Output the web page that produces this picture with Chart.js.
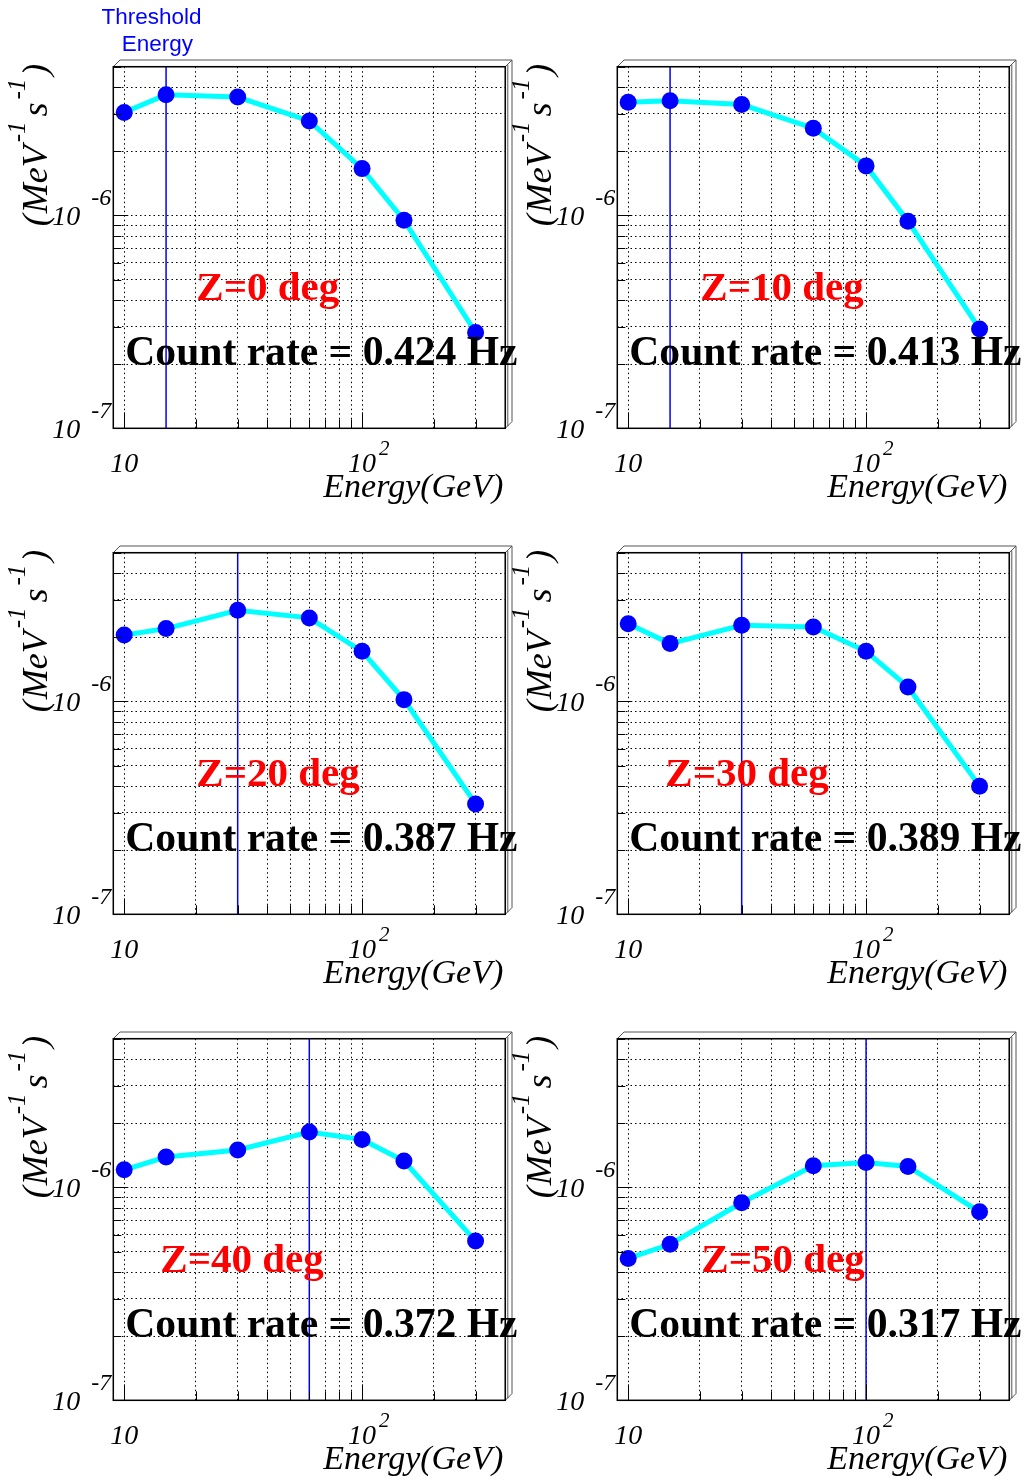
<!DOCTYPE html>
<html>
<head>
<meta charset="utf-8">
<script src="https://cdn.jsdelivr.net/npm/chart.js@4.4.0/dist/chart.umd.min.js"></script>
<style>
  html, body { margin: 0; padding: 0; background: #fff; }
  #page { position: relative; width: 1024px; height: 1481px; overflow: hidden; }
  #page canvas { position: absolute; }
</style>
</head>
<body>
<div id="page"></div>
<script>
// data (differential rate, MeV^-1 s^-1)
const energies = [10, 15, 30, 60, 100, 150, 300];
const zenithAngles = [0, 10, 20, 30, 40, 50];
const countRates = ['0.424', '0.413', '0.387', '0.389', '0.372', '0.317'];
const thresholds = [15, 15, 30, 30, 60, 100];

const rateZ0  = [3.05e-6, 3.69e-6, 3.60e-6, 2.78e-6, 1.66e-6, 9.5e-7, 2.82e-7];
const rateZ10 = [3.40e-6, 3.46e-6, 3.32e-6, 2.57e-6, 1.71e-6, 9.4e-7, 2.93e-7];
const rateZ20 = [2.05e-6, 2.20e-6, 2.68e-6, 2.47e-6, 1.72e-6, 1.02e-6, 3.3e-7];
const rateZ30 = [2.32e-6, 1.87e-6, 2.28e-6, 2.24e-6, 1.72e-6, 1.17e-6, 4.0e-7];
const rateZ40 = [1.21e-6, 1.39e-6, 1.50e-6, 1.82e-6, 1.68e-6, 1.33e-6, 5.6e-7];
const rateZ50 = [4.64e-7, 5.41e-7, 8.47e-7, 1.265e-6, 1.31e-6, 1.256e-6, 7.68e-7];
const rates = [rateZ0, rateZ10, rateZ20, rateZ30, rateZ40, rateZ50];

// axes
const xRange = [9, 400];
const yRange = [1e-7, 5e-6];
const xGrid = [10, 20, 30, 40, 50, 60, 70, 80, 90, 100, 200, 300];
const yGrid = [1e-7, 2e-7, 3e-7, 4e-7, 5e-7, 6e-7, 7e-7, 8e-7, 9e-7, 1e-6, 2e-6, 3e-6, 4e-6, 5e-6];
const xLabelTicks = [10, 100];
const xLabelText = [['10', ''], ['10', '2']];
const yLabelTicks = [1e-7, 1e-6];
const yLabelText = [['10', '-7'], ['10', '-6']];

// layout (canvas coords of one panel)
const W = 520, H = 510;
const FR = { left: 113.3, top: 66.7, right: 505.3, bottom: 428.3 };
const zLabelDx = [83, 83, 83, 48, 47, 84];
const SERIF = '"Liberation Serif", "DejaVu Serif", serif';
const SANS = '"Liberation Sans", Arial, sans-serif';

const isMajor = v => Math.abs(Math.log10(v) - Math.round(Math.log10(v))) < 1e-9;

// y title pieces: text, superscript?, gap after
const yTitleParts = [['(', false, 1], ['MeV', false, 3], ['-1', true, 5], ['s', false, 3], ['-1', true, 3], [')', false, 0]];

function pieceFont(sup) {
  return 'italic ' + (sup ? 25 : 36) + 'px ' + SERIF;
}

const rootFrame = {
  id: 'rootFrame',
  afterDraw(chart, args, opts) {
    const ctx = chart.ctx;
    const { left: L, top: T, right: R, bottom: B } = chart.chartArea;
    const xs = chart.scales.x, ys = chart.scales.y;
    ctx.save();

    // tick marks
    ctx.strokeStyle = '#000';
    ctx.lineWidth = 1;
    ctx.beginPath();
    xGrid.forEach(v => {
      const px = Math.round(xs.getPixelForValue(v)) + 0.5;
      ctx.moveTo(px, B);
      ctx.lineTo(px, B - (isMajor(v) ? 16 : 9));
    });
    yGrid.forEach(v => {
      const py = Math.round(ys.getPixelForValue(v)) + 0.5;
      ctx.moveTo(L, py);
      ctx.lineTo(L + (isMajor(v) ? 15 : 8), py);
    });
    ctx.stroke();

    // 3D bevel
    const d = 6.7;
    ctx.fillStyle = '#fff';
    ctx.strokeStyle = '#555';
    ctx.lineWidth = 1;
    ctx.beginPath();
    ctx.moveTo(L, T);
    ctx.lineTo(L + d, T - d);
    ctx.lineTo(R + d, T - d);
    ctx.lineTo(R + d, B - d);
    ctx.lineTo(R, B);
    ctx.lineTo(R, T);
    ctx.closePath();
    ctx.fill();
    ctx.stroke();
    ctx.beginPath();
    ctx.moveTo(R, T);
    ctx.lineTo(R + d, T - d);
    ctx.moveTo(R + 2.5, T - 2);
    ctx.lineTo(R + 2.5, B - 2);
    ctx.stroke();

    // frame
    ctx.strokeStyle = '#000';
    ctx.lineWidth = 1.5;
    ctx.strokeRect(L, T, R - L, B - T);

    // labels inside the pad
    const i = opts.index;
    ctx.textBaseline = 'alphabetic';
    ctx.textAlign = 'left';
    ctx.font = 'bold 41px ' + SERIF;
    ctx.fillStyle = '#ff0000';
    ctx.fillText('Z=' + zenithAngles[i] + ' deg', L + zLabelDx[i], T + 233.3);
    ctx.fillStyle = '#000';
    ctx.font = 'bold 41.6px ' + SERIF;
    ctx.fillText('Count rate = ' + countRates[i] + ' Hz', L + 12, T + 298.3);

    // axis labels
    ctx.fillStyle = '#000';
    yLabelTicks.forEach((v, k) => {
      const py = ys.getPixelForValue(v);
      ctx.font = 'italic 28px ' + SERIF;
      ctx.textAlign = 'right';
      ctx.fillText(yLabelText[k][0], L - 33, py + 10);
      ctx.font = 'italic 24px ' + SERIF;
      ctx.textAlign = 'left';
      ctx.fillText(yLabelText[k][1], L - 22, py - 10);
    });
    xLabelTicks.forEach((v, k) => {
      const px = xs.getPixelForValue(v);
      ctx.font = 'italic 28px ' + SERIF;
      ctx.textAlign = 'center';
      ctx.fillText(xLabelText[k][0], px, B + 44);
      if (xLabelText[k][1]) {
        ctx.font = 'italic 21px ' + SERIF;
        ctx.textAlign = 'left';
        ctx.fillText(xLabelText[k][1], px + 17, B + 27);
      }
    });

    // x title
    ctx.font = 'italic 34px ' + SERIF;
    ctx.textAlign = 'right';
    ctx.fillText('Energy(GeV)', R - 2, B + 69);

    // y title, rotated, right-aligned at the top of the frame
    ctx.textAlign = 'left';
    let w = 0;
    yTitleParts.forEach(([t, sup, gap]) => {
      ctx.font = pieceFont(sup);
      w += ctx.measureText(t).width + gap;
    });
    ctx.save();
    ctx.translate(46.7, T - 3);
    ctx.rotate(-Math.PI / 2);
    let cx = -w;
    yTitleParts.forEach(([t, sup, gap]) => {
      ctx.font = pieceFont(sup);
      ctx.fillText(t, cx, sup ? -22 : 0);
      cx += ctx.measureText(t).width + gap;
    });
    ctx.restore();

    if (i === 0) {
      ctx.font = '22.5px ' + SANS;
      ctx.fillStyle = '#0000ff';
      ctx.textAlign = 'left';
      ctx.fillText('Threshold', 101.5, 24);
      ctx.fillText('Energy', 121.7, 50.5);
    }
    ctx.restore();
  }
};

const page = document.getElementById('page');
rates.forEach((series, i) => {
  const cv = document.createElement('canvas');
  cv.width = W;
  cv.height = H;
  cv.style.left = (i % 2) * 504 + 'px';
  cv.style.top = Math.floor(i / 2) * 486 + 'px';
  page.appendChild(cv);

  new Chart(cv, {
    type: 'line',
    data: {
      datasets: [{
        data: energies.map((e, k) => ({ x: e, y: series[k] })),
        borderColor: '#00ffff',
        borderWidth: 5,
        pointRadius: 8.5,
        pointBackgroundColor: '#0000ff',
        pointBorderColor: '#0000ff',
        pointBorderWidth: 0,
        tension: 0,
        order: 1
      }, {
        data: [{ x: thresholds[i], y: yRange[0] }, { x: thresholds[i], y: yRange[1] }],
        borderColor: '#0000ff',
        borderWidth: 1.5,
        pointRadius: 0,
        order: 2
      }]
    },
    options: {
      responsive: false,
      animation: false,
      devicePixelRatio: 1,
      layout: {
        padding: { left: FR.left, top: FR.top, right: W - FR.right, bottom: H - FR.bottom }
      },
      plugins: {
        legend: { display: false },
        tooltip: { enabled: false },
        rootFrame: { index: i }
      },
      scales: {
        x: {
          type: 'logarithmic',
          min: xRange[0],
          max: xRange[1],
          afterBuildTicks: s => { s.ticks = xGrid.map(v => ({ value: v })); },
          ticks: { display: false },
          grid: { color: '#000', lineWidth: 1, drawTicks: false },
          border: { display: false, dash: [1.5, 3] }
        },
        y: {
          type: 'logarithmic',
          min: yRange[0],
          max: yRange[1],
          afterBuildTicks: s => { s.ticks = yGrid.map(v => ({ value: v })); },
          ticks: { display: false },
          grid: { color: '#000', lineWidth: 1, drawTicks: false },
          border: { display: false, dash: [1.5, 3] }
        }
      }
    },
    plugins: [rootFrame]
  });
});
</script>
</body>
</html>
